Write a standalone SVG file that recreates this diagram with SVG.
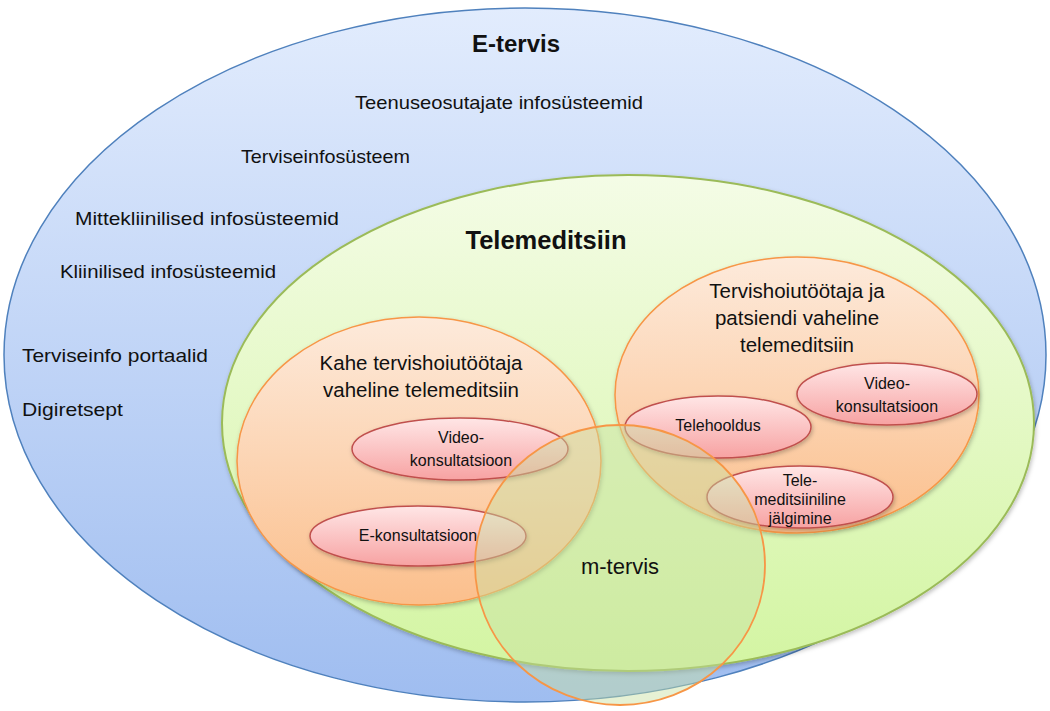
<svg xmlns="http://www.w3.org/2000/svg" width="1050" height="711" viewBox="0 0 1050 711">
<defs>
<linearGradient id="gBlue" x1="0" y1="0" x2="0" y2="1"><stop offset="0" stop-color="#e2ecfd"/><stop offset="1" stop-color="#9fbdf0"/></linearGradient>
<linearGradient id="gGreen" x1="0" y1="0" x2="0" y2="1"><stop offset="0" stop-color="#f4fce6"/><stop offset="1" stop-color="#d3f5a2"/></linearGradient>
<linearGradient id="gOrange" x1="0" y1="0" x2="0" y2="1"><stop offset="0" stop-color="#fdeadb"/><stop offset="1" stop-color="#fbbf8c"/></linearGradient>
<linearGradient id="gPink" x1="0" y1="0" x2="0" y2="1"><stop offset="0" stop-color="#ffe6e6"/><stop offset="1" stop-color="#f7a2a2"/></linearGradient>
<filter id="sh" x="-10%" y="-10%" width="120%" height="125%"><feDropShadow dx="1" dy="2" stdDeviation="2" flood-color="#000" flood-opacity="0.25"/></filter>
</defs>
<style>
text{font-family:"Liberation Sans",Arial,sans-serif;fill:#111;}
.t1{font-size:24px;font-weight:bold;text-anchor:middle;}
.t2{font-size:18.5px;}
.t3{font-size:20.5px;text-anchor:middle;}
.t4{font-size:16px;text-anchor:middle;}
.blue{fill:url(#gBlue);stroke:#4f81bd;stroke-width:1.5;}
.green{fill:url(#gGreen);stroke:#9bbb59;stroke-width:2;}
.orange{fill:url(#gOrange);stroke:#f79646;stroke-width:1.5;}
.pink{fill:url(#gPink);stroke:#c0504d;stroke-width:1.5;}
.m{fill:#c8e0a0;fill-opacity:0.45;stroke:#f79646;stroke-width:1.8;}
</style>
<g id="e-tervis">
<ellipse class="blue" cx="525" cy="355" rx="521" ry="347"/>
<text class="t1" x="516" y="52">E-tervis</text>
<text class="t2" x="355" y="109" textLength="288" lengthAdjust="spacingAndGlyphs">Teenuseosutajate infosüsteemid</text>
<text class="t2" x="241" y="163" textLength="169" lengthAdjust="spacingAndGlyphs">Terviseinfosüsteem</text>
<text class="t2" x="75" y="225" textLength="264" lengthAdjust="spacingAndGlyphs">Mittekliinilised infosüsteemid</text>
<text class="t2" x="60" y="278" textLength="216" lengthAdjust="spacingAndGlyphs">Kliinilised infosüsteemid</text>
<text class="t2" x="22" y="362" textLength="186" lengthAdjust="spacingAndGlyphs">Terviseinfo portaalid</text>
<text class="t2" x="22" y="416" textLength="101" lengthAdjust="spacingAndGlyphs">Digiretsept</text>
</g>
<g id="telemeditsiin">
<ellipse class="green" cx="628" cy="423" rx="406" ry="248" filter="url(#sh)"/>
<text class="t1" x="546" y="249" style="font-size:25.5px">Telemeditsiin</text>
</g>
<g id="kahe">
<ellipse class="orange" cx="419" cy="461" rx="182" ry="144" filter="url(#sh)"/>
<text class="t3" x="421" y="370">Kahe tervishoiutöötaja</text>
<text class="t3" x="421" y="397">vaheline telemeditsiin</text>
</g>
<g id="patsiendi">
<ellipse class="orange" cx="797" cy="395" rx="182" ry="138" filter="url(#sh)"/>
<text class="t3" x="797" y="298">Tervishoiutöötaja ja</text>
<text class="t3" x="797" y="325">patsiendi vaheline</text>
<text class="t3" x="797" y="352">telemeditsiin</text>
</g>
<g id="video1">
<ellipse class="pink" cx="460" cy="449" rx="108" ry="31" filter="url(#sh)"/>
<text class="t4" x="461" y="443">Video-</text>
<text class="t4" x="461" y="466">konsultatsioon</text>
</g>
<g id="ekons">
<ellipse class="pink" cx="418" cy="536" rx="108" ry="30" filter="url(#sh)"/>
<text class="t4" x="418" y="541">E-konsultatsioon</text>
</g>
<g id="telehooldus">
<ellipse class="pink" cx="718" cy="427" rx="93" ry="31" filter="url(#sh)"/>
<text class="t4" x="718" y="431">Telehooldus</text>
</g>
<g id="video2">
<ellipse class="pink" cx="887" cy="394" rx="90" ry="31" filter="url(#sh)"/>
<text class="t4" x="887" y="389">Video-</text>
<text class="t4" x="887" y="412">konsultatsioon</text>
</g>
<g id="jalgimine">
<ellipse class="pink" cx="800" cy="497" rx="93" ry="31" filter="url(#sh)"/>
<text class="t4" x="800" y="486">Tele-</text>
<text class="t4" x="800" y="505">meditsiiniline</text>
<text class="t4" x="800" y="524">jälgimine</text>
</g>
<g id="m-tervis">
<ellipse class="m" cx="620" cy="565" rx="145" ry="140"/>
<text x="620" y="574" style="font-size:22px;text-anchor:middle;">m-tervis</text>
</g>
<g id="connectors"></g>
</svg>
